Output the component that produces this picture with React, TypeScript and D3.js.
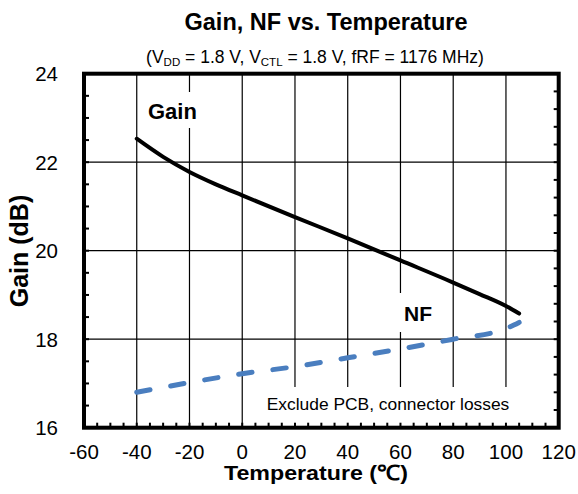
import React from "react";
import * as d3 from "d3";

const temps = [-40, -30, -20, -10, 0, 20, 40, 60, 80, 90, 100, 105];
const gainDb = [22.53, 22.12, 21.78, 21.5, 21.25, 20.76, 20.28, 19.78, 19.28, 19.02, 18.75, 18.58];
const nfTemps = [-40, -20, 0, 20, 40, 60, 80, 100, 105];
const nfDb = [0.4, 0.51, 0.61, 0.69, 0.79, 0.89, 1.0, 1.12, 1.19];
const xTicks = [-60, -40, -20, 0, 20, 40, 60, 80, 100, 120];
const yTicks = [16, 18, 20, 22, 24];

const W = 578, H = 494;
const L = 84, R = 558.7, T = 73.7, B = 427.7;
const FONT = "'Liberation Sans', Arial, Helvetica, sans-serif";

export default function App() {
  const x = d3.scaleLinear().domain([-60, 120]).range([L, R]);
  const y = d3.scaleLinear().domain([16, 24]).range([B, T]);
  const yNF = d3.scaleLinear().domain([0, 4]).range([B, T]);

  const gainLine = d3
    .line<number>()
    .x((_, i) => x(temps[i]))
    .y((d) => y(d))
    .curve(d3.curveMonotoneX);
  const nfLine = d3
    .line<number>()
    .x((_, i) => x(nfTemps[i]))
    .y((d) => yNF(d))
    .curve(d3.curveMonotoneX);

  const leftMinor = d3.range(16, 24.001, 0.5);
  const rightMinor = d3.range(0, 4.001, 0.2);
  const bottomMinor = d3.range(-60, 120.001, 5);

  return (
    <svg width={W} height={H} style={{ position: "absolute", left: 0, top: 0, background: "#fff" }} fontFamily={FONT}>
      <rect x={0} y={0} width={W} height={H} fill="#fff" />
      {/* title */}
      <text x={326} y={30} textAnchor="middle" fontSize={23.5} fontWeight="bold">
        Gain, NF vs. Temperature
      </text>
      <text x={315} y={63} textAnchor="middle" fontSize={17.5}>
        (V<tspan fontSize={11.5} dy={3}>DD</tspan>
        <tspan dy={-3}> = 1.8 V, V</tspan>
        <tspan fontSize={11.5} dy={3}>CTL</tspan>
        <tspan dy={-3}> = 1.8 V, fRF = 1176 MHz)</tspan>
      </text>

      {/* gridlines */}
      {xTicks.slice(1, -1).map((t) => (
        <line key={"gx" + t} x1={x(t)} x2={x(t)} y1={T} y2={B} stroke="#000" strokeWidth={1.2} />
      ))}
      {yTicks.slice(1, -1).map((t) => (
        <line key={"gy" + t} x1={L} x2={R} y1={y(t)} y2={y(t)} stroke="#000" strokeWidth={1.2} />
      ))}

      {/* series */}
      <path d={gainLine(gainDb) || ""} fill="none" stroke="#000" strokeWidth={4} strokeLinecap="round" strokeLinejoin="round" />
      <path
        d={nfLine(nfDb) || ""}
        fill="none"
        stroke="#4a7ebf"
        strokeWidth={5}
        strokeLinecap="round"
        strokeDasharray="13.5 21"
      />

      {/* label boxes */}
      <rect x={140} y={92} width={65} height={36} fill="#fff" />
      <text x={148} y={119} fontSize={22} fontWeight="bold">Gain</text>
      <rect x={392} y={293} width={53} height={39} fill="#fff" />
      <text x={404} y={321} fontSize={21} fontWeight="bold">NF</text>
      <rect x={258} y={387} width={260} height={B - 387} fill="#fff" />
      <text x={266.7} y={410} fontSize={17.4}>Exclude PCB, connector losses</text>

      {/* minor ticks */}
      {leftMinor.map((v) => (
        <line key={"lm" + v} x1={L} x2={L + 5} y1={y(v)} y2={y(v)} stroke="#000" strokeWidth={2} />
      ))}
      {rightMinor.map((v) => (
        <line key={"rm" + v} x1={R} x2={R - 5} y1={yNF(v)} y2={yNF(v)} stroke="#000" strokeWidth={2} />
      ))}
      {bottomMinor.map((v) => (
        <line key={"bm" + v} x1={x(v)} x2={x(v)} y1={B} y2={B - 5} stroke="#000" strokeWidth={2} />
      ))}

      {/* frame */}
      <rect x={L} y={T} width={R - L} height={B - T} fill="none" stroke="#000" strokeWidth={4} />

      {/* tick labels */}
      {yTicks.map((t) => (
        <text key={"yl" + t} x={58} y={y(t) + 7.5} textAnchor="end" fontSize={20.5}>
          {t}
        </text>
      ))}
      {xTicks.map((t) => (
        <text key={"xl" + t} x={x(t)} y={459} textAnchor="middle" fontSize={20.5}>
          {t}
        </text>
      ))}

      {/* axis titles */}
      <text x={316} y={480} textAnchor="middle" fontSize={21} fontWeight="bold" textLength={184} lengthAdjust="spacingAndGlyphs">
        Temperature (℃)
      </text>
      <text transform={`translate(28,251) rotate(-90)`} textAnchor="middle" fontSize={25} fontWeight="bold">
        Gain (dB)
      </text>
    </svg>
  );
}
